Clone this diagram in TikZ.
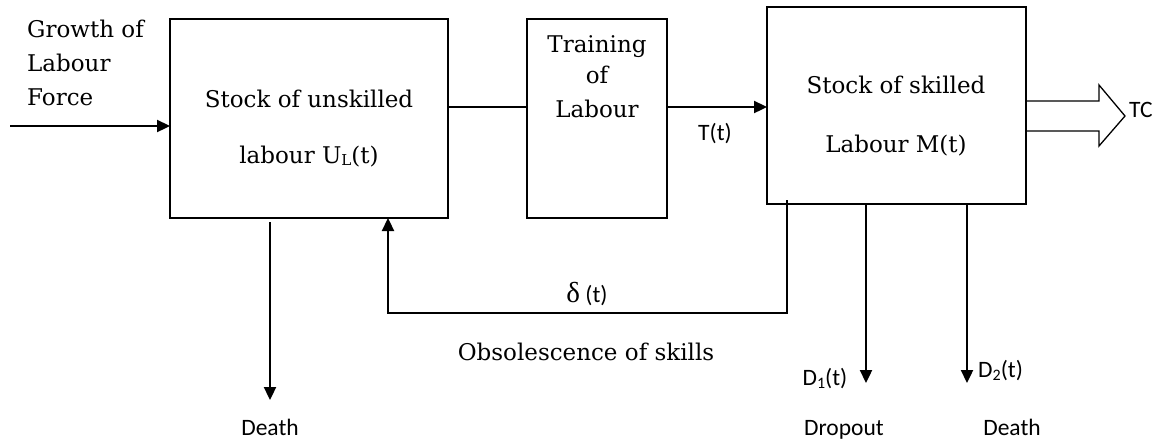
\documentclass[tikz,border=0pt]{standalone}
\usepackage{fontspec}
\setmainfont{DejaVu Serif}
\newfontfamily\sansf{Carlito}
\newfontfamily\grkf{Liberation Serif}
\usetikzlibrary{arrows.meta}
\begin{document}
\begin{tikzpicture}[x=1pt,y=-1pt,
  box/.style={draw, line width=1.9pt, inner sep=0pt, outer sep=0pt},
  serif/.style={font=\fontsize{23}{23}\selectfont, inner sep=0pt},
  sans/.style={font=\sansf\fontsize{23.5}{23.5}\selectfont, inner sep=0pt},
  arr/.style={line width=2.3pt, -{Triangle[length=13pt,width=12pt]}},
  ln/.style={line width=1.9pt},
  hollow/.style={line width=1.3pt, line join=miter}]
\useasboundingbox (0,0) rectangle (1156,440);
\fill[white] (0,0) rectangle (1156,440);

% boxes
\node[box, minimum width=278pt, minimum height=199pt] (U) at (309,118.5) {};
\node[box, minimum width=140pt, minimum height=199pt] (T) at (597,118.5) {};
\node[box, minimum width=259pt, minimum height=197pt] (S) at (896.5,105.5) {};

% texts
\node[serif, anchor=base west] (g1) at (27,37) {Growth of};
\node[serif, anchor=base west] (g2) at (27,71) {Labour};
\node[serif, anchor=base west] (g3) at (27,105) {Force};
\node[serif, anchor=base] (u1) at (309,107) {Stock of unskilled};
\node[serif, anchor=base] (u2) at (309,163) {labour U\raisebox{-2pt}{\fontsize{15}{15}\selectfont L}(t)};
\node[serif, anchor=base] (t1) at (597,52) {Training};
\node[serif, anchor=base] (t2) at (597,83) {of};
\node[serif, anchor=base] (t3) at (597,117) {Labour};
\node[serif, anchor=base] (s1) at (896,93) {Stock of skilled};
\node[serif, anchor=base] (s2) at (896,152) {Labour M(t)};
\node[sans, anchor=base] (tl) at (715,140) {T(t)};
\node[sans, anchor=base west] (tc) at (1129,117) {TC};
\node[sans, anchor=base] (dl) at (587,302) {{\grkf\fontsize{29}{29}\selectfont δ} (t)};
\node[serif, anchor=base] (ob) at (586,360) {Obsolescence of skills};
\node[sans, anchor=base] (d1l) at (825,385) {D\raisebox{-3pt}{\fontsize{16}{16}\selectfont 1}(t)};
\node[sans, anchor=base west] (d2l) at (978,377) {D\raisebox{-3pt}{\fontsize{16}{16}\selectfont 2}(t)};
\node[sans, anchor=base] (dea1) at (270,435) {Death};
\node[sans, anchor=base] (drop) at (844,435) {Dropout};
\node[sans, anchor=base] (dea2) at (1012,435) {Death};

% connectors
\coordinate (in) at (10,126);
\draw[arr] (in) -- (U.west |- in);
\draw[ln] (U.east |- 0,107) -- (T.west |- 0,107);
\draw[arr] (T.east |- 0,107) -- (S.west |- 0,107);

\coordinate (dd) at (270,400);
\draw[arr] ([yshift=-4pt]U.south -| dd) -- (dd);

\coordinate (fb) at (787,313);
\coordinate (fbl) at (388,313);
\draw[arr, line join=miter] ([yshift=4pt]S.south -| fb) -- (fb) -- (fbl) -- (U.south -| fbl);

\coordinate (d1) at (866,383);
\coordinate (d2) at (967,383);
\draw[arr] (S.south -| d1) -- (d1);
\draw[arr] (S.south -| d2) -- (d2);

% hollow output arrow
\draw[hollow] (S.east |- 0,101) -- (1099,101) -- (1099,85) -- (1125,116) -- (1099,146) -- (1099,131) -- (S.east |- 0,131);
\end{tikzpicture}
\end{document}
